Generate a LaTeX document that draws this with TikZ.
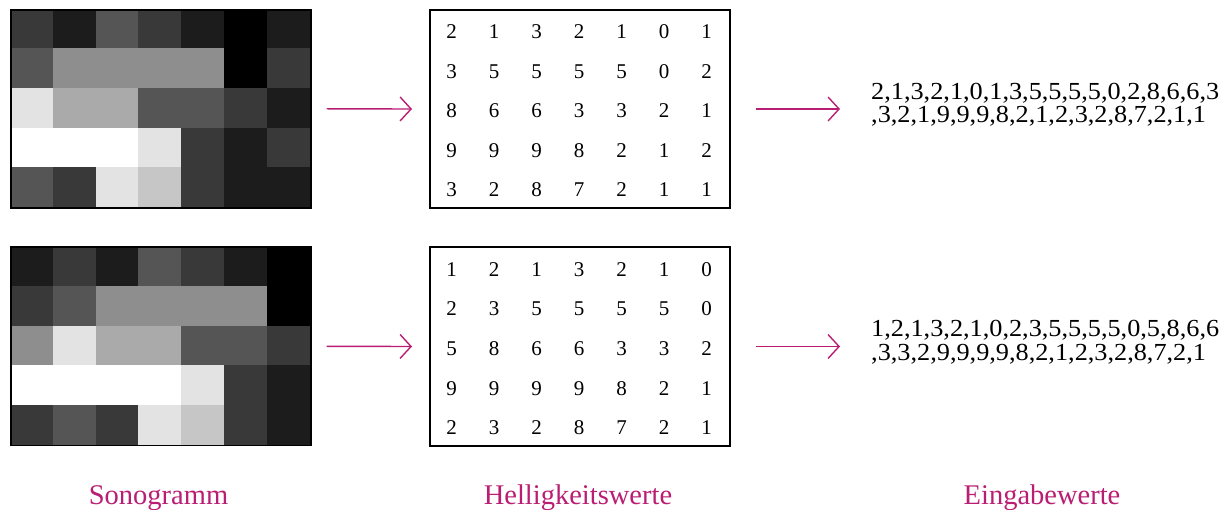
\documentclass[tikz,border=0pt]{standalone}
\usepackage{fontspec}
\usepackage{graphicx}
\setmainfont{Liberation Serif}
\usetikzlibrary{arrows.meta}
\definecolor{accent}{RGB}{185,30,115}

% Slightly widened list text
\newcommand\widelist[1]{\scalebox{1.072}[1]{#1}}

% One row of the figure: grey-level grid, matrix of values, flattened list.
% #1 name suffix, #2 top edge, #3 rows of values, #4 and #5 the two text lines
\newcommand\sonorow[5]{%
  \foreach \row [count=\r from 0] in {#3} {
    \foreach \v [count=\c from 0] in \row {
      \pgfmathsetmacro\g{\v*100/9}
      \fill[white!\g!black, draw=white!\g!black, line width=0.3pt]
        ({10+\c*300/7},{#2+\r*39.6}) rectangle ++({300/7},39.6);
      \node[digit] (d#1-\r-\c) at ({451.7+\c*42.5},{#2+30+\r*39.5}) {\v};
    }
  }
  \node[gridframe] (sono#1) at (10,#2) {};
  \node[matframe] (mat#1) at (429,#2) {};
  \node[listtext] (in#1a) at (871,{#2+90.3}) {\widelist{#4}};
  \node[listtext] (in#1b) at (871,{#2+113.7}) {\widelist{#5}};
  \draw[flow] ([xshift=15pt]sono#1.east) -- ([xshift=-17pt]mat#1.west);
  \draw[flow] ([xshift=25pt]mat#1.east) -- ([xshift=-31pt]in#1a.west |- mat#1.east);
}

\begin{document}
\begin{tikzpicture}[x=1pt,y=-1pt,
  gridframe/.style={draw=black, line width=1.6pt, minimum width=300pt,
    minimum height=198pt, inner sep=0pt, anchor=north west},
  matframe/.style={draw=black, line width=2pt, minimum width=300pt,
    minimum height=198pt, inner sep=0pt, anchor=north west},
  digit/.style={anchor=base, inner sep=0pt, font=\fontsize{21}{25}\selectfont},
  listtext/.style={anchor=base west, inner sep=0pt, text height=16pt, text depth=0pt,
    font=\fontsize{24.5}{28}\selectfont},
  caption/.style={anchor=base, inner sep=0pt, text=accent, font=\fontsize{28.5}{32}\selectfont},
  flow/.style={draw=accent, line width=1.4pt, -{Straight Barb[length=11pt,width=24pt,line width=1.4pt]}},
]
\useasboundingbox (0,0) rectangle (1231,510);

\sonorow{1}{9}{{2,1,3,2,1,0,1},{3,5,5,5,5,0,2},{8,6,6,3,3,2,1},{9,9,9,8,2,1,2},{3,2,8,7,2,1,1}}
  {2,1,3,2,1,0,1,3,5,5,5,5,0,2,8,6,6,3}{,3,2,1,9,9,9,8,2,1,2,3,2,8,7,2,1,1}

\sonorow{2}{246.5}{{1,2,1,3,2,1,0},{2,3,5,5,5,5,0},{5,8,6,6,3,3,2},{9,9,9,9,8,2,1},{2,3,2,8,7,2,1}}
  {1,2,1,3,2,1,0,2,3,5,5,5,5,0,5,8,6,6}{,3,3,2,9,9,9,9,8,2,1,2,3,2,8,7,2,1}

\node[caption] (capsono) at (158.5,504) {Sonogramm};
\node[caption] (capmat) at (578,504) {Helligkeitswerte};
\node[caption] (capin) at (1042,504) {Eingabewerte};
\end{tikzpicture}
\end{document}
